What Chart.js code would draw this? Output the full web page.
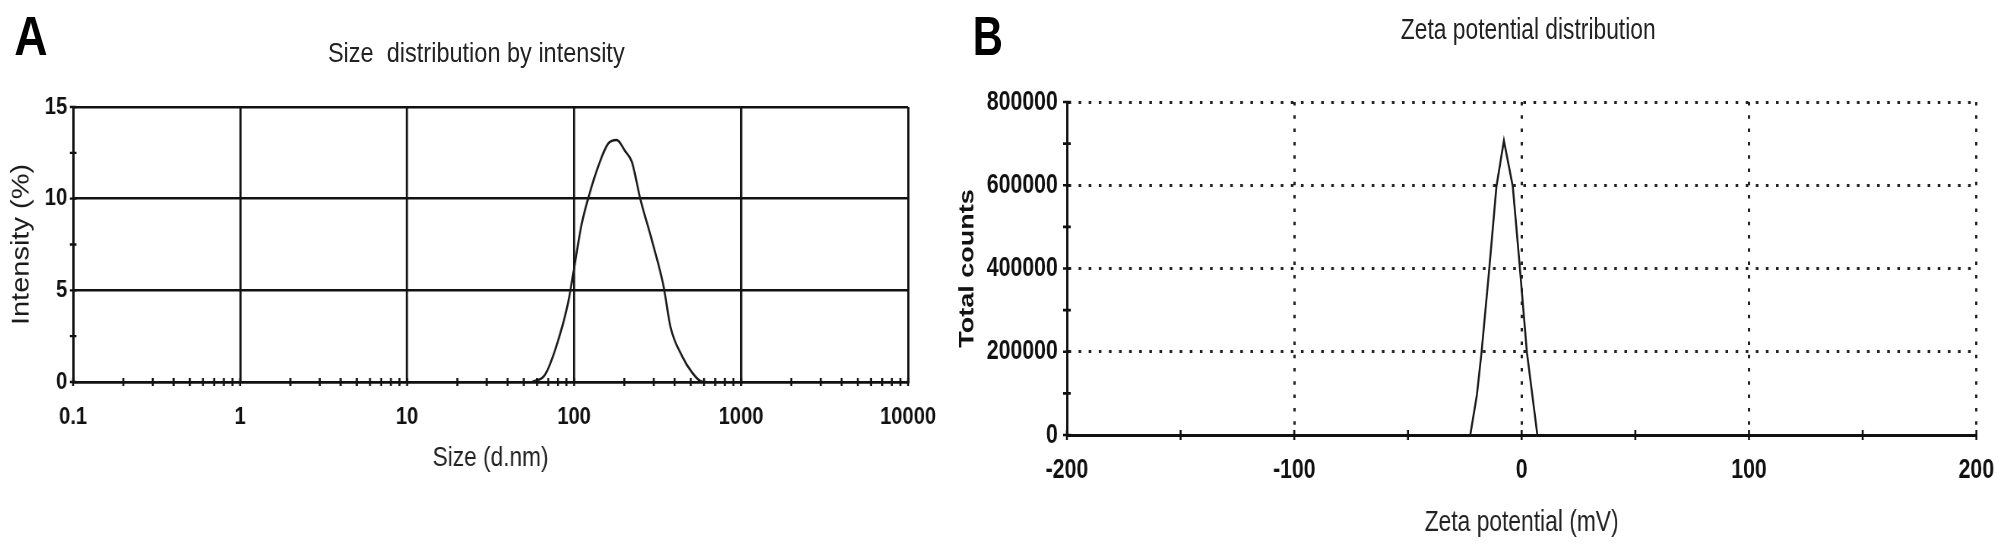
<!DOCTYPE html>
<html>
<head>
<meta charset="utf-8">
<title>Size and zeta potential distribution</title>
<script src="https://cdn.jsdelivr.net/npm/chart.js@4"></script>
<style>
  html, body { margin: 0; padding: 0; background: #fff; }
  body { width: 2008px; height: 544px; position: relative; overflow: hidden; font-family: "Liberation Sans", Arial, sans-serif; }
  .panel { position: absolute; top: 0; height: 544px; transform-origin: 0 0; }
  .panel canvas { position: absolute; left: 0; top: 0; }
  .letter { position: absolute; top: 9px; font-size: 55px; line-height: 55px; font-weight: bold; color: #000; }
  .title { position: absolute; line-height: 1; color: #222; white-space: pre; transform: translateX(-50%); }
</style>
</head>
<body>

<div class="panel" id="panelA" style="left:0; width:1190px; transform: scaleX(0.84);">
  <canvas id="chartA" width="1190" height="544" style="width:1190px;height:544px"></canvas>
  <div class="letter" style="left:17px;">A</div>
  <div class="title" style="left:567px; top:39px; font-size:28px;">Size  distribution by intensity</div>
</div>

<div class="panel" id="panelB" style="left:940px; width:1405px; transform: scaleX(0.76);">
  <canvas id="chartB" width="1405" height="544" style="width:1405px;height:544px"></canvas>
  <div class="letter" style="left:43px;">B</div>
  <div class="title" style="left:774px; top:14px; font-size:30px;">Zeta potential distribution</div>
</div>

<script>
// --- Data: A, size distribution by intensity ---
const sizeNm = [56, 67, 78, 92, 100, 111, 124, 140, 160, 180, 202, 222, 249, 293, 344, 378, 444, 511, 573, 620];
const intensityPct = [0, 0.4, 1.9, 4.3, 6.2, 8.6, 10.3, 11.8, 13.0, 13.2, 12.6, 12.0, 10.0, 7.7, 5.2, 3.0, 1.4, 0.5, 0.05, 0];
const sizeTicks = [0.1, 1, 10, 100, 1000, 10000];
const intensityTicks = [0, 5, 10, 15];

// --- Data: B, zeta potential distribution ---
const zetaMv = [-22.6, -19.7, -17.6, -14.3, -11.1, -7.8, -3.9, -0.7, 2.3, 6.9];
const totalCounts = [0, 96000, 201000, 396000, 597000, 707000, 597000, 396000, 199000, 0];
const zetaTicks = [-200, -100, 0, 100, 200];
const countTicks = [0, 200000, 400000, 600000, 800000];

Chart.defaults.font.family = '"Liberation Sans", Arial, sans-serif';
Chart.defaults.color = "#111";

// small tick marks that straddle the axes (minor and major)
const axisStubs = {
  id: "axisStubs",
  afterDraw(chart, args, opts) {
    const { ctx, chartArea } = chart;
    const x = chart.scales.x;
    const y = chart.scales.y;
    ctx.save();
    ctx.strokeStyle = "#111";
    ctx.lineWidth = opts.width;
    ctx.beginPath();
    x.ticks.forEach((t) => {
      const px = x.getPixelForValue(t.value);
      ctx.moveTo(px, chartArea.bottom - opts.size);
      ctx.lineTo(px, chartArea.bottom + opts.size);
    });
    y.ticks.forEach((t) => {
      const py = y.getPixelForValue(t.value);
      ctx.moveTo(chartArea.left - opts.size, py);
      ctx.lineTo(chartArea.left + opts.size, py);
    });
    ctx.stroke();
    ctx.restore();
  },
};

const tickFont = { size: 24, weight: "bold" };

// --- Chart A ---
new Chart(document.getElementById("chartA"), {
  type: "line",
  data: {
    datasets: [
      {
        data: sizeNm.map((x, i) => ({ x, y: intensityPct[i] })),
        borderColor: "#1a1a1a",
        borderWidth: 2.4,
        pointRadius: 0,
        cubicInterpolationMode: "monotone",
        fill: false,
      },
    ],
  },
  options: {
    responsive: false,
    animation: false,
    events: [],
    layout: { padding: { left: 0, right: 109, top: 107, bottom: 0 } },
    plugins: {
      legend: { display: false },
      tooltip: { enabled: false },
      axisStubs: { size: 4, width: 2.4 },
    },
    scales: {
      x: {
        type: "logarithmic",
        min: sizeTicks[0],
        max: sizeTicks[sizeTicks.length - 1],
        afterBuildTicks: (scale) => {
          const list = [];
          sizeTicks.forEach((d, i) => {
            list.push({ value: d, major: true });
            if (i < sizeTicks.length - 1) {
              for (let k = 2; k <= 9; k++) list.push({ value: d * k, major: false });
            }
          });
          scale.ticks = list;
        },
        afterFit: (scale) => { scale.height = 162; },
        ticks: {
          autoSkip: false,
          maxRotation: 0,
          padding: 21,
          font: tickFont,
          callback: (v) => (sizeTicks.includes(v) ? String(v) : ""),
        },
        grid: {
          drawTicks: false,
          lineWidth: 2.6,
          color: (c) => (c.tick && c.tick.major ? "#111" : "rgba(0,0,0,0)"),
        },
        border: { display: true, color: "#111", width: 2.6 },
        title: {
          display: true,
          text: "Size (d.nm)",
          color: "#222",
          font: { size: 27 },
          padding: { top: 0, bottom: 69 },
        },
      },
      y: {
        min: 0,
        max: 15,
        afterFit: (scale) => { scale.width = 87; },
        ticks: {
          stepSize: 2.5,
          padding: 7,
          font: tickFont,
          callback: (v) => (intensityTicks.includes(v) ? String(v) : ""),
        },
        grid: {
          drawTicks: false,
          lineWidth: 2.6,
          color: (c) => (c.tick && intensityTicks.includes(c.tick.value) ? "#111" : "rgba(0,0,0,0)"),
        },
        border: { display: true, color: "#111", width: 2.6 },
        title: {
          display: true,
          text: "Intensity (%)",
          color: "#1a1a1a",
          font: { size: 29 },
          padding: { top: 9, bottom: 0 },
        },
      },
    },
  },
  plugins: [axisStubs],
});

// --- Chart B ---
const tickFontB = { size: 28, weight: "bold" };

new Chart(document.getElementById("chartB"), {
  type: "line",
  data: {
    datasets: [
      {
        data: zetaMv.map((x, i) => ({ x, y: totalCounts[i] })),
        borderColor: "#1a1a1a",
        borderWidth: 2.6,
        pointRadius: 0,
        tension: 0,
        fill: false,
      },
    ],
  },
  options: {
    responsive: false,
    animation: false,
    events: [],
    layout: { padding: { left: 0, right: 34, top: 102, bottom: 0 } },
    plugins: {
      legend: { display: false },
      tooltip: { enabled: false },
      axisStubs: { size: 5, width: 2.6 },
    },
    scales: {
      x: {
        type: "linear",
        min: zetaTicks[0],
        max: zetaTicks[zetaTicks.length - 1],
        afterFit: (scale) => { scale.height = 109; },
        ticks: {
          stepSize: 50,
          autoSkip: false,
          maxRotation: 0,
          padding: 18,
          font: tickFontB,
          callback: (v) => (zetaTicks.includes(v) ? String(v) : ""),
        },
        grid: {
          drawTicks: false,
          lineWidth: 3,
          color: (c) =>
            c.tick && zetaTicks.includes(c.tick.value) && c.tick.value !== zetaTicks[0] ? "#222" : "rgba(0,0,0,0)",
        },
        border: { display: true, color: "#111", width: 3, dash: [3.5, 9.8] },
        title: {
          display: true,
          text: "Zeta potential (mV)",
          color: "#222",
          font: { size: 30 },
          padding: { top: 0, bottom: 3 },
        },
      },
      y: {
        min: 0,
        max: 800000,
        afterFit: (scale) => { scale.width = 167; },
        ticks: {
          stepSize: 100000,
          padding: 12,
          font: tickFontB,
          callback: (v) => (countTicks.includes(v) ? String(v) : ""),
        },
        grid: {
          drawTicks: false,
          lineWidth: 3,
          color: (c) =>
            c.tick && countTicks.includes(c.tick.value) && c.tick.value !== 0 ? "#222" : "rgba(0,0,0,0)",
        },
        border: { display: true, color: "#111", width: 3, dash: [3.5, 9.8] },
        title: {
          display: true,
          text: "Total counts",
          color: "#111",
          font: { size: 27, weight: "bold" },
          padding: { top: 20, bottom: 0 },
        },
      },
    },
  },
  plugins: [axisStubs],
});
</script>
</body>
</html>
